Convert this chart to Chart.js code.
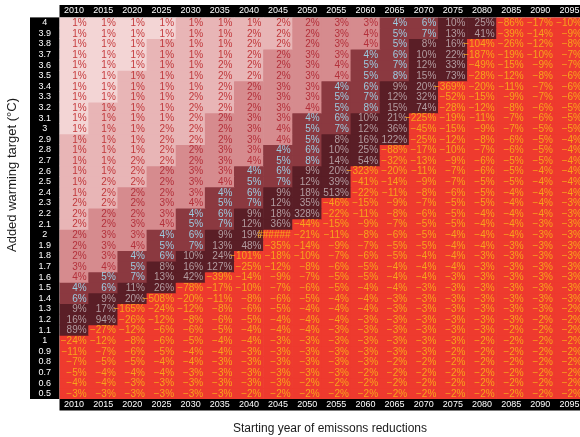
<!DOCTYPE html>
<html>
<head>
<meta charset="utf-8">
<title>Added warming target vs starting year</title>
<script src="https://cdn.jsdelivr.net/npm/chart.js@4.4.1/dist/chart.umd.min.js"></script>
<style>
  html, body { margin: 0; padding: 0; overflow: hidden; background: #fff; }
  canvas { display: block; }
</style>
</head>
<body>
<canvas id="heatChart" width="584" height="437"></canvas>
<script>
// ==== DATA ====
const years = [2010, 2015, 2020, 2025, 2030, 2035, 2040, 2045, 2050,
               2055, 2060, 2065, 2070, 2075, 2080, 2085, 2090, 2095];
const targets = [4, 3.9, 3.8, 3.7, 3.6, 3.5, 3.4, 3.3, 3.2, 3.1, 3, 2.9, 2.8, 2.7, 2.6, 2.5, 2.4, 2.3,
                 2.2, 2.1, 2, 1.9, 1.8, 1.7, 1.6, 1.5, 1.4, 1.3, 1.2, 1.1, 1, 0.9, 0.8, 0.7, 0.6, 0.5];
const targetLabels = ['4', '3.9', '3.8', '3.7', '3.6', '3.5', '3.4', '3.3', '3.2', '3.1', '3', '2.9',
                      '2.8', '2.7', '2.6', '2.5', '2.4', '2.3', '2.2', '2.1', '2', '1.9', '1.8', '1.7',
                      '1.6', '1.5', '1.4', '1.3', '1.2', '1.1', '1', '0.9', '0.8', '0.7', '0.6', '0.5'];

// percent values per target row (one entry per starting year)
const r40 = [0.9, 0.9, 0.9, 0.9, 1.2, 1.2, 1.2, 1.8, 2.2, 3, 3, 4.2, 6, 10, 25, -86, -17, -10];
const r39 = [0.9, 0.9, 0.9, 0.9, 1.2, 1.2, 1.8, 1.8, 2.2, 3, 3.8, 5, 7, 13, 41, -39, -14, -9];
const r38 = [0.9, 0.9, 0.9, 1.2, 1.2, 1.2, 1.8, 1.8, 2.2, 3, 3.8, 5, 8.2, 16, -104, -26, -12, -8];
const r37 = [0.9, 0.9, 0.9, 1.2, 1.2, 1.2, 1.8, 2.2, 3, 3, 4.2, 6, 10, 22, -187, -19, -10, -7];
const r36 = [0.9, 0.9, 0.9, 1.2, 1.2, 1.8, 1.8, 2.2, 3, 3.8, 5, 7, 12, 33, -49, -15, -9, -7];
const r35 = [0.9, 0.9, 1.2, 1.2, 1.2, 1.8, 1.8, 2.2, 3, 3.8, 5, 7.8, 15, 73, -28, -12, -8, -6];
const r34 = [0.9, 0.9, 1.2, 1.2, 1.2, 1.8, 2.2, 3, 3, 4.2, 6, 9, 20, -369, -20, -11, -7, -6];
const r33 = [0.9, 0.9, 1.2, 1.2, 1.8, 1.8, 2.2, 3, 3, 5, 7, 12, 32, -52, -15, -9, -7, -6];
const r32 = [0.9, 1.2, 1.2, 1.2, 1.8, 1.8, 2.2, 3, 3.8, 5, 7.8, 15, 74, -28, -12, -8, -6, -5];
const r31 = [0.9, 1.2, 1.2, 1.2, 1.8, 2.2, 3, 3, 4.2, 6, 10, 21, -225, -19, -11, -7, -6, -5];
const r30 = [0.9, 1.2, 1.2, 1.8, 1.8, 2.2, 3, 3.8, 5, 7, 12, 36, -45, -15, -9, -7, -5, -5];
const r29 = [1.2, 1.2, 1.2, 1.8, 1.8, 2.2, 3, 3.8, 5, 8.2, 16, 122, -25, -12, -8, -6, -5, -4];
const r28 = [1.2, 1.2, 1.2, 1.8, 2.2, 3, 3, 4.2, 6, 10, 25, -88, -17, -10, -7, -6, -5, -4];
const r27 = [1.2, 1.2, 1.8, 1.8, 2.2, 3, 3.8, 5, 7.8, 14, 54, -32, -13, -9, -6, -5, -5, -4];
const r26 = [1.2, 1.2, 1.8, 2.2, 3, 3, 4.2, 6, 9, 20, -323, -20, -11, -7, -6, -5, -4, -4];
const r25 = [1.2, 1.8, 1.8, 2.2, 3, 3.8, 5, 7, 12, 39, -41, -14, -9, -7, -5, -5, -4, -4];
const r24 = [1.2, 1.8, 2.2, 2.2, 3, 4.2, 6, 9, 18, 513, -22, -11, -8, -6, -5, -4, -4, -4];
const r23 = [1.8, 1.8, 2.2, 3, 3.8, 5, 7, 12, 35, -46, -15, -9, -7, -5, -5, -4, -4, -3];
const r22 = [1.8, 2.2, 2.2, 3, 4.2, 6, 9, 18, 328, -22, -11, -8, -6, -5, -4, -4, -4, -3];
const r21 = [1.8, 2.2, 3, 3.8, 5, 7, 12, 36, -44, -15, -9, -7, -5, -5, -4, -4, -3, -3];
const r20 = [2.2, 3, 3, 4.2, 6, 9, 19, -1200, -21, -11, -8, -6, -5, -4, -4, -4, -3, -3];
const r19 = [2.2, 3, 3.8, 5, 7, 13, 48, -35, -14, -9, -7, -5, -5, -4, -4, -3, -3, -3];
const r18 = [2.2, 3, 4.2, 6, 10, 24, -101, -18, -10, -7, -6, -5, -4, -4, -3, -3, -3, -3];
const r17 = [3, 3.8, 5, 8.2, 16, 127, -25, -12, -8, -6, -5, -4, -4, -4, -3, -3, -3, -3];
const r16 = [3.8, 5, 7, 13, 42, -39, -14, -9, -7, -5, -5, -4, -4, -3, -3, -3, -3, -3];
const r15 = [4.2, 6, 11, 26, -78, -17, -10, -7, -6, -5, -4, -4, -3, -3, -3, -3, -3, -3];
const r14 = [6, 9, 20, -508, -20, -11, -8, -6, -5, -4, -4, -3, -3, -3, -3, -3, -3, -3];
const r13 = [9, 17, -165, -24, -12, -8, -6, -5, -4, -4, -4, -3, -3, -3, -3, -3, -3, -2];
const r12 = [16, 94, -26, -12, -8, -6, -5, -4, -4, -4, -3, -3, -3, -3, -3, -3, -2, -2];
const r11 = [89, -27, -12, -6, -6, -5, -4, -4, -4, -3, -3, -3, -3, -3, -3, -2, -2, -2];
const r10 = [-24, -12, -8, -6, -5, -4, -4, -3, -3, -3, -3, -3, -3, -3, -2, -2, -2, -2];
const r09 = [-11, -7, -6, -5, -4, -4, -3, -3, -3, -3, -3, -3, -3, -2, -2, -2, -2, -2];
const r08 = [-7, -5, -5, -4, -4, -3, -3, -3, -3, -3, -3, -2, -2, -2, -2, -2, -2, -2];
const r07 = [-5, -4, -4, -4, -3, -3, -3, -3, -3, -3, -2, -2, -2, -2, -2, -2, -2, -2];
const r06 = [-4, -4, -3, -3, -3, -3, -3, -3, -2, -2, -2, -2, -2, -2, -2, -2, -2, -2];
const r05 = [-3, -3, -3, -3, -3, -3, -2, -2, -2, -2, -2, -2, -2, -2, -2, -2, -2, -2];

const rows = [r40, r39, r38, r37, r36, r35, r34, r33, r32, r31, r30, r29, r28, r27, r26, r25, r24, r23,
              r22, r21, r20, r19, r18, r17, r16, r15, r14, r13, r12, r11, r10, r09, r08, r07, r06, r05];

// ==== COLOURS ====
const fills = ['#f3d5d5', '#e8b5b6', '#d68b8e', '#8b3940', '#5a1e26', '#ee3a2e'];
const inks  = ['#c63c3e', '#c0383b', '#b3303a', '#9ccbe0', '#b39ca0', '#f8a31c'];

function band(v) {
  if (v < 0) return 5;
  if (v < 1) return 0;
  if (v < 2) return 1;
  if (v < 4) return 2;
  if (v < 8) return 3;
  return 4;
}

function fmt(v) {
  if (Math.abs(v) >= 1000) return '######';
  const n = Math.round(v);
  return (n < 0 ? '\u2212' + (-n) : n) + '%';
}

const FONT = '"Liberation Sans", Arial, Helvetica, sans-serif';

// ==== PLUGINS ====
// black strips behind the tick labels
const strips = {
  id: 'strips',
  beforeDraw(chart) {
    const ctx = chart.ctx;
    ctx.save();
    ctx.fillStyle = '#000';
    ['x', 'xTop', 'y'].forEach(id => {
      const s = chart.scales[id];
      ctx.fillRect(s.left, s.top, s.right - s.left, s.bottom - s.top);
    });
    ctx.restore();
  }
};

// value text inside every cell
const cellText = {
  id: 'cellText',
  afterDatasetsDraw(chart) {
    const ctx = chart.ctx;
    ctx.save();
    ctx.font = '10px ' + FONT;
    ctx.textAlign = 'right';
    ctx.textBaseline = 'middle';
    rows.forEach((row, i) => {
      chart.getDatasetMeta(i).data.forEach((bar, j) => {
        const v = row[j];
        const c = bar.getCenterPoint();
        ctx.fillStyle = inks[band(v)];
        ctx.fillText(fmt(v), c.x + bar.width / 2 - 2, c.y + 0.5);
      });
    });
    ctx.restore();
  }
};

// axis titles
const axisTitles = {
  id: 'axisTitles',
  afterDraw(chart) {
    const ctx = chart.ctx;
    ctx.save();
    ctx.fillStyle = '#1a1a1a';
    ctx.textAlign = 'center';
    ctx.textBaseline = 'middle';
    ctx.font = '12px ' + FONT;
    ctx.fillText('Starting year of emissons reductions', 330, 429);
    ctx.translate(12, 175);
    ctx.rotate(-Math.PI / 2);
    ctx.font = '13px ' + FONT;
    ctx.fillText('Added warming target (\u00B0C)', 0, 0);
    ctx.restore();
  }
};

// ==== CHART ====
const datasets = rows.map((row, i) => ({
  label: targetLabels[i],
  data: years.map(() => [targets[i] - 0.05, targets[i] + 0.05]),
  backgroundColor: row.map(v => fills[band(v)]),
  borderWidth: 0,
  grouped: false,
  barPercentage: 1,
  categoryPercentage: 1,
  xAxisID: 'x',
  yAxisID: 'y'
}));

const tickFont = { family: FONT, size: 9 };

new Chart(document.getElementById('heatChart').getContext('2d'), {
  type: 'bar',
  data: { labels: years.map(String), datasets: datasets },
  options: {
    responsive: false,
    animation: false,
    events: [],
    layout: { padding: { left: 30, top: 5, right: 0, bottom: 26.5 } },
    plugins: { legend: { display: false }, tooltip: { enabled: false } },
    scales: {
      x: {
        type: 'category',
        position: 'bottom',
        offset: true,
        grid: { display: false, drawTicks: false },
        border: { display: false },
        ticks: { color: '#fff', font: tickFont, padding: 0, autoSkip: false, maxRotation: 0, minRotation: 0 },
        afterFit: s => { s.height = 11.5; }
      },
      xTop: {
        type: 'category',
        position: 'top',
        offset: true,
        grid: { display: false, drawTicks: false },
        border: { display: false },
        ticks: { color: '#fff', font: tickFont, padding: 1, autoSkip: false, maxRotation: 0, minRotation: 0 },
        afterFit: s => { s.height = 12.4; }
      },
      y: {
        type: 'linear',
        min: 0.45,
        max: 4.05,
        grid: { display: false, drawTicks: false },
        border: { display: false },
        afterBuildTicks: s => { s.ticks = targets.map(v => ({ value: v })); },
        ticks: {
          color: '#fff', font: tickFont, autoSkip: false, crossAlign: 'center', padding: 8.5,
          callback: (v, i) => targetLabels[i]
        },
        afterFit: s => { s.width = 29.5; }
      }
    }
  },
  plugins: [strips, cellText, axisTitles]
});
</script>
</body>
</html>
